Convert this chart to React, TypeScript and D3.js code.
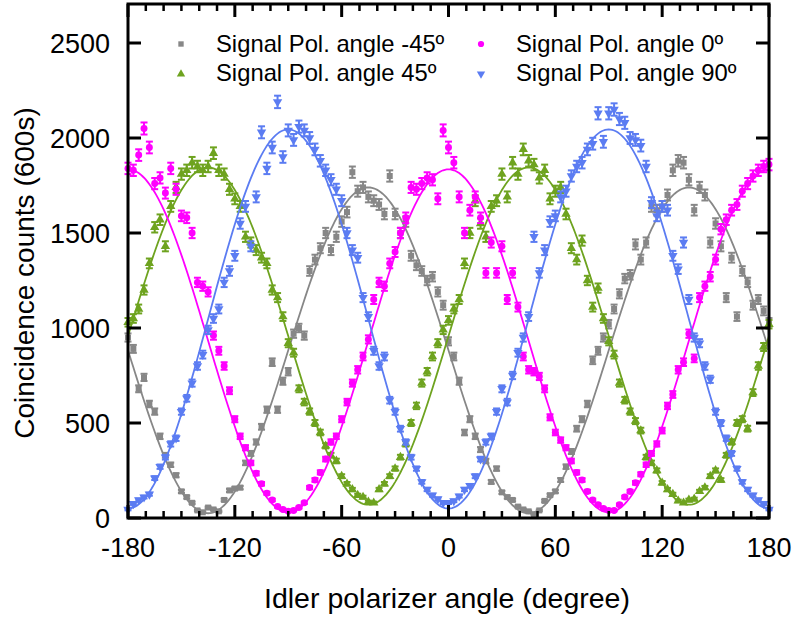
import React from 'react';
import * as d3 from 'd3';

// Idler polarizer angle grid (degree)
const angles: number[] = d3.range(-180, 181, 3);

// Coincidence counts (600s), -180..180 step 3
const countsM45 = [
  950, 890, 680, 740, 600, 560, 430, 330, 280, 225,
  140, 110, 80, 40, 30, 55, 45, 35, 95, 145,
  155, 160, 290, 340, 400, 480, 570, 820, 570, 720,
  770, 970, 1000, 960, 1300, 1360, 1420, 1500, 1410, 1480,
  1560, 1610, 1820, 1720, 1740, 1690, 1670, 1650, 1600, 1800,
  1600, 1500, 1560, 1380, 1330, 1300, 1250, 1270, 1190, 1120,
  930, 850, 720, 450, 520, 430, 360, 300, 190, 260,
  135, 110, 95, 60, 45, 35, 20, 40, 90, 120,
  140, 200, 270, 350, 470, 520, 600, 830, 880, 950,
  1020, 1100, 1180, 1260, 1280, 1440, 1360, 1450, 1640, 1620,
  1640, 1700, 1830, 1880, 1870, 1780, 1620, 1740, 1700, 1450,
  1550, 1430, 1160, 1370, 1060, 1300, 1240, 1120, 1150, 1090,
  1030,
];
const counts0 = [
  1840, 1830, 1910, 2050, 1950, 1760, 1790, 1710, 1840, 1730,
  1590, 1580, 1500, 1240, 1220, 1190, 960, 880, 800, 670,
  520, 430, 370, 290, 235, 180, 130, 95, 60, 45,
  35, 40, 55, 80, 160, 200, 240, 310, 400, 430,
  520, 610, 710, 780, 850, 940, 1150, 1240, 1220, 1340,
  1400, 1500, 1580, 1740, 1730, 1760, 1790, 1780, 1680, 2040,
  1950, 1870, 1690, 1500, 1620, 1690, 1580, 1290, 1450, 1290,
  1430, 1150, 1290, 1110, 850, 780, 770, 745, 680, 530,
  450, 410, 370, 300, 240, 200, 140, 95, 70, 50,
  40, 40, 70, 110, 140, 185, 230, 280, 340, 390,
  460, 590, 650, 780, 820, 970, 840, 1160, 1220, 1270,
  1360, 1520, 1570, 1620, 1650, 1720, 1760, 1800, 1830, 1850,
  1860,
];
const counts45 = [
  1030, 1050, 1100, 1200, 1340, 1530, 1570, 1430, 1640, 1740,
  1810, 1830, 1870, 1850, 1830, 1850, 1920, 1830, 1810, 1730,
  1680, 1640, 1480, 1450, 1410, 1370, 1340, 1200, 1160, 1060,
  920, 870, 680, 610, 560, 500, 450, 380, 330, 300,
  220, 180, 150, 120, 110, 85, 80, 150, 180, 220,
  260, 320, 390, 500, 590, 710, 770, 850, 920, 990,
  1040, 1100, 1150, 1340, 1500, 1670, 1550, 1480, 1640, 1670,
  1810, 1690, 1870, 1810, 1940, 1880, 1860, 1790, 1830, 1680,
  1720, 1740, 1600, 1420, 1360, 1460, 1250, 1110, 1210, 1050,
  930, 860, 710, 620, 560, 510, 460, 320, 290, 250,
  185, 150, 125, 90, 80, 95, 100, 140, 160, 220,
  250, 200, 330, 400, 500, 520, 470, 660, 800, 900,
  1020,
];
const counts90 = [
  45, 75, 95, 110, 125, 210, 270, 320, 390, 420,
  560, 630, 710, 800, 860, 990, 1050, 1100, 1240, 1300,
  1380, 1550, 1640, 1430, 1690, 2030, 1840, 1950, 2190, 1900,
  2040, 1990, 2060, 2040, 2000, 1940, 1880, 1830, 1780, 1730,
  1670, 1500, 1410, 1370, 1160, 1060, 880, 800, 850, 620,
  560, 470, 400, 320, 260, 190, 150, 120, 100, 80,
  80, 90, 115, 150, 170, 220, 310, 400, 430, 560,
  680, 610, 750, 870, 950, 1060, 1480, 1290, 1410, 1560,
  1590, 1690, 1720, 1800, 1850, 1870, 1940, 1970, 2130, 1980,
  2130, 2150, 2100, 2080, 2000, 1990, 1960, 1850, 1660, 1590,
  1640, 1620, 1380, 1310, 1450, 1150, 950, 920, 800, 730,
  560, 500, 420, 340, 260, 190, 150, 120, 95, 75,
  45,
];

const seriesNames = [
  'Signal Pol. angle -45º',
  'Signal Pol. angle 0º',
  'Signal Pol. angle 45º',
  'Signal Pol. angle 90º',
];
const seriesData = [countsM45, counts0, counts45, counts90];
const seriesColors = ['#878787', '#ff00ff', '#6ea31f', '#5b7cf2'];
const seriesShapes = ['square', 'circle', 'up', 'down'];

// cos^2 fit parameters (min, max, phase in degree)
const fitMin = [25, 30, 70, 50];
const fitMax = [1740, 1835, 1845, 2045];
const fitPhase = [-45, 0, 45, 90];

const xTicks = [-180, -120, -60, 0, 60, 120, 180];
const xMinorTicks = d3.range(-170, 180, 10);
const yTicks = [0, 500, 1000, 1500, 2000, 2500];

const W = 793;
const H = 619;
const left = 128;
const right = 769;
const top = 4;
const bottom = 518;
const FONT = '"Liberation Sans", Arial, Helvetica, sans-serif';

const x = d3.scaleLinear().domain([-180, 180]).range([left, right]);
const y = d3.scaleLinear().domain([0, 2500]).range([bottom, 43]);

function markerPath(shape: string, s = 1): { d: string; rot: number } {
  if (shape === 'square') return { d: d3.symbol(d3.symbolSquare, 36 * s)()!, rot: 0 };
  if (shape === 'circle') return { d: d3.symbol(d3.symbolCircle, 38 * s)()!, rot: 0 };
  if (shape === 'up') return { d: d3.symbol(d3.symbolTriangle, 38 * s)()!, rot: 0 };
  return { d: d3.symbol(d3.symbolTriangle, 38 * s)()!, rot: 180 };
}

export default function App() {
  const fitAngles = d3.range(-180, 180.5, 1);
  const legendPos = [
    { mx: 181, my: 44, tx: 216, ty: 52 },
    { mx: 481, my: 44, tx: 516, ty: 52 },
    { mx: 181, my: 74, tx: 216, ty: 81 },
    { mx: 481, my: 74, tx: 516, ty: 81 },
  ];
  const drawOrder = [0, 2, 1, 3];

  return (
    <svg
      width={W}
      height={H}
      viewBox={`0 0 ${W} ${H}`}
      style={{ position: 'absolute', left: 0, top: 0, background: '#fff' }}
      fontFamily={FONT}
    >
      <rect x={0} y={0} width={W} height={H} fill="#fff" />

      {/* fits and data */}
      {drawOrder.map((si) => {
        const color = seriesColors[si];
        const line = d3
          .line<number>()
          .x((a) => x(a))
          .y((a) => {
            const r = ((a - fitPhase[si]) * Math.PI) / 180;
            const c = Math.cos(r);
            return y(fitMin[si] + (fitMax[si] - fitMin[si]) * c * c);
          });
        const mk = markerPath(seriesShapes[si]);
        return (
          <g key={si}>
            <path d={line(fitAngles)!} fill="none" stroke={color} strokeWidth={1.8} />
            {seriesData[si].map((v, i) => {
              const px = x(angles[i]);
              const err = 0.7 * Math.sqrt(v);
              const y1 = y(v + err);
              const y2 = y(v - err);
              return (
                <g key={i} stroke={color} strokeWidth={2}>
                  <line x1={px} x2={px} y1={y1} y2={y2} />
                  <line x1={px - 3.5} x2={px + 3.5} y1={y1} y2={y1} />
                  <line x1={px - 3.5} x2={px + 3.5} y1={y2} y2={y2} />
                  <path
                    d={mk.d}
                    transform={`translate(${px},${y(v)}) rotate(${mk.rot})`}
                    fill={color}
                    stroke="none"
                  />
                </g>
              );
            })}
          </g>
        );
      })}

      {/* frame */}
      <rect
        x={left}
        y={top}
        width={right - left}
        height={bottom - top}
        fill="none"
        stroke="#000"
        strokeWidth={3}
      />

      {/* x ticks */}
      {xTicks.map((t) => (
        <g key={'xt' + t}>
          <line x1={x(t)} x2={x(t)} y1={bottom} y2={bottom - 13} stroke="#000" strokeWidth={3} />
          <line x1={x(t)} x2={x(t)} y1={top} y2={top + 13} stroke="#000" strokeWidth={3} />
          <text x={x(t)} y={557} textAnchor="middle" fontSize={27} fill="#000">
            {t}
          </text>
        </g>
      ))}
      {xMinorTicks
        .filter((t) => !xTicks.includes(t))
        .map((t) => (
          <g key={'xm' + t}>
            <line x1={x(t)} x2={x(t)} y1={bottom} y2={bottom - 7} stroke="#000" strokeWidth={2.5} />
            <line x1={x(t)} x2={x(t)} y1={top} y2={top + 7} stroke="#000" strokeWidth={2.5} />
          </g>
        ))}

      {/* y ticks */}
      {yTicks.map((t) => (
        <g key={'yt' + t}>
          <line x1={left} x2={left + 13} y1={y(t)} y2={y(t)} stroke="#000" strokeWidth={3} />
          <line x1={right} x2={right - 13} y1={y(t)} y2={y(t)} stroke="#000" strokeWidth={3} />
          <text x={110} y={y(t)} dy="0.36em" textAnchor="end" fontSize={27} fill="#000">
            {t}
          </text>
        </g>
      ))}

      {/* axis titles */}
      <text x={447} y={608} textAnchor="middle" fontSize={28.5} fill="#000">
        Idler polarizer angle (degree)
      </text>
      <text
        transform="translate(34,273) rotate(-90)"
        textAnchor="middle"
        fontSize={28}
        fill="#000"
      >
        Coincidence counts (600s)
      </text>

      {/* legend */}
      {seriesNames.map((name, si) => {
        const p = legendPos[si];
        const mk = markerPath(seriesShapes[si], 0.8);
        return (
          <g key={'lg' + si}>
            <path
              d={mk.d}
              transform={`translate(${p.mx},${p.my}) rotate(${mk.rot})`}
              fill={seriesColors[si]}
            />
            <text x={p.tx} y={p.ty} fontSize={23.8} fill="#000">
              {name}
            </text>
          </g>
        );
      })}
    </svg>
  );
}
